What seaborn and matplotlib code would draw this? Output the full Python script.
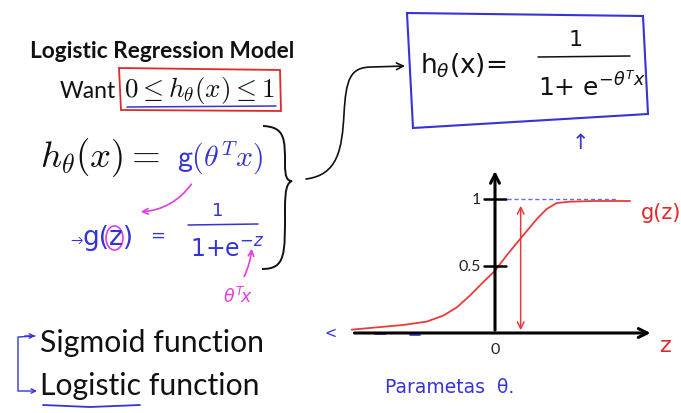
import matplotlib
matplotlib.use('Agg')
import matplotlib.pyplot as plt
import seaborn as sns
from matplotlib.patches import FancyArrowPatch, Ellipse, Polygon, PathPatch
from matplotlib.path import Path

# sigmoid g(z)
z_vals = [-5.97, -4.93, -3.82, -2.85, -2.15, -1.60, -1.04, -0.49, 0.0, 0.49,
          0.90, 1.32, 1.74, 2.15, 2.57, 3.13, 4.10, 5.63]
g_vals = [0.025, 0.042, 0.06, 0.085, 0.13, 0.19, 0.28, 0.38, 0.465, 0.58,
          0.67, 0.76, 0.85, 0.925, 0.97, 0.98, 0.985, 0.985]

y_ticks = [1, 0.5]
y_tick_labels = ['1', '0.5']
x_ticks = [0]
x_tick_labels = ['0']

sns.set_theme(style='white')
plt.rcParams['font.family'] = ['Lato', 'DejaVu Sans']

BLUE = '#3434d8'
RED = '#e02a2a'
MAG = '#e23de0'
CURVE = '#e63c3c'

fig = plt.figure(figsize=(6.81, 4.14), dpi=100)
fig.patch.set_facecolor('white')

# full page axes in pixel units for the slide text
ax = fig.add_axes([0, 0, 1, 1])
ax.set_xlim(0, 681)
ax.set_ylim(414, 0)
ax.axis('off')

# ---- slide text
ax.text(162, 52, 'Logistic Regression Model', ha='center', va='center',
        fontsize=16.3, fontweight='bold', color='#111111')
ax.text(60, 91, 'Want', ha='left', va='center', fontsize=16.5, color='#111111')
ax.text(124, 90, r'$0 \leq h_\theta(x) \leq 1$', ha='left', va='center',
        fontsize=19.5, color='#111111', math_fontfamily='cm')
# red box + blue underline
ax.add_patch(Polygon([(119, 69), (280, 71), (281, 112), (121, 111)], closed=True,
                     fill=False, ec=RED, lw=1.3))
ax.plot([127, 276], [108, 107], color=BLUE, lw=1.1)

ax.text(40, 158, r'$h_\theta(x) = $', ha='left', va='center', fontsize=26.5,
        color='#111111', math_fontfamily='cm')
ax.text(177, 158, r'$\mathsf{g}(\theta^T x)$', ha='left', va='center', fontsize=21.5,
        color=BLUE, math_fontfamily='cm')

# brace
brace = Path([(263, 127), (285, 128), (285, 140), (285, 165), (285, 178), (287, 182), (292, 182),
              (287, 184), (285, 190), (285, 210), (285, 255), (286, 270), (262, 270)],
             [Path.MOVETO, Path.CURVE4, Path.CURVE4, Path.CURVE4, Path.CURVE4, Path.CURVE4, Path.CURVE4,
              Path.CURVE4, Path.CURVE4, Path.CURVE4, Path.CURVE4, Path.CURVE4, Path.CURVE4])
ax.add_patch(PathPatch(brace, fill=False, ec='#111111', lw=1.4))

# g(z) definition
ax.text(70, 241, '→', ha='left', va='center', fontsize=9, color=BLUE)
ax.text(82, 238, 'g(z)', ha='left', va='center', fontsize=19, color=BLUE,
        family='DejaVu Sans')
ax.text(150, 236, '=', ha='left', va='center', fontsize=13, color=BLUE,
        family='DejaVu Sans')
ax.add_patch(Ellipse((114.5, 239), 17, 24, fill=False, ec=MAG, lw=1.2))
ax.text(218, 211, '1', ha='center', va='center', fontsize=13, color=BLUE, family='DejaVu Sans')
ax.plot([188, 258], [226, 225], color=BLUE, lw=1.1)
ax.text(190, 250, r'$1$+e$^{-z}$', ha='left', va='center', fontsize=17, color=BLUE,
        family='DejaVu Sans')

ax.add_patch(FancyArrowPatch((193, 183), (138, 213), connectionstyle='arc3,rad=-0.25',
                             arrowstyle='->', mutation_scale=10, color=MAG, lw=1.2))
ax.add_patch(FancyArrowPatch((243, 280), (252, 247), connectionstyle='arc3,rad=0.1',
                             arrowstyle='->', mutation_scale=10, color=MAG, lw=1.2))
ax.text(238, 296, r'$\theta^T\!x$', ha='center', va='center', fontsize=12.5, color=MAG)

# sigmoid / logistic
ax.text(40, 343, 'Sigmoid function', ha='left', va='center', fontsize=21.7, color='#111111')
ax.text(40, 386, 'Logistic function', ha='left', va='center', fontsize=21.7, color='#111111')
ax.add_patch(FancyArrowPatch(path=Path([(35, 337), (18, 338), (18, 392), (37, 392)],
                                       [Path.MOVETO, Path.LINETO, Path.LINETO, Path.LINETO]),
                             arrowstyle='->', mutation_scale=8, color=BLUE, lw=1.0))
ax.add_patch(FancyArrowPatch((22, 337), (38, 337), arrowstyle='->', mutation_scale=8,
                             color=BLUE, lw=1.0))
ax.plot([43, 90, 140], [406, 408, 406], color=BLUE, lw=1.3)

ax.text(385, 388, 'Parametas  θ.', ha='left', va='center', fontsize=13.5, color=BLUE,
        family='DejaVu Sans')

# arrow from brace to box
arr = Path([(306, 180), (338, 176), (342, 150), (344, 115), (346, 80), (350, 68), (372, 68), (405, 67)],
           [Path.MOVETO, Path.CURVE4, Path.CURVE4, Path.CURVE4, Path.CURVE4, Path.CURVE4, Path.CURVE4, Path.LINETO])
ax.add_patch(FancyArrowPatch(path=arr, arrowstyle='->', mutation_scale=12, color='#111111', lw=1.2))

# boxed formula
ax.add_patch(Polygon([(407, 14), (643, 17), (648, 115), (413, 129)], closed=True,
                     fill=False, ec=BLUE, lw=1.5))
ax.text(420, 66, r'h$_\theta$(x)=', ha='left', va='center', fontsize=19, color='#111111',
        family='DejaVu Sans')
ax.text(576, 40, '1', ha='center', va='center', fontsize=16, color='#111111', family='DejaVu Sans')
ax.plot([538, 630], [58, 57], color='#111111', lw=1.1)
ax.text(538, 86, r'1+ e$^{-\theta^T x}$', ha='left', va='center', fontsize=18, color='#111111',
        family='DejaVu Sans')
ax.text(580, 143, '↑', ha='center', va='center', fontsize=15, color=BLUE, family='DejaVu Sans')

# ---- sigmoid plot
pax = fig.add_axes([330 / 681, (414 - 355) / 414, 335 / 681, 190 / 414])
pax.set_xlim((330 - 495) / 24, (665 - 495) / 24)
pax.set_ylim((334 - 355) / 134, (334 - 165) / 134)
pax.axis('off')
pax.patch.set_alpha(0)

sns.lineplot(x=z_vals, y=g_vals, ax=pax, color=CURVE, lw=1.3)

pax.annotate('', xy=(6.6, 0), xytext=(-5.97, 0),
             arrowprops=dict(arrowstyle='->', lw=2.2, color='black', mutation_scale=16))
pax.annotate('', xy=(0, 1.23), xytext=(0, 0),
             arrowprops=dict(arrowstyle='->', lw=2.2, color='black', mutation_scale=16))
for t, lab in zip(y_ticks, y_tick_labels):
    pax.plot([-0.45, 0.45], [t, t], color='black', lw=1.8)
    pax.text(-0.6, t, lab, ha='right', va='center', fontsize=11.5, color='#222222')
for t, lab in zip(x_ticks, x_tick_labels):
    pax.text(t, -0.12, lab, ha='center', va='center', fontsize=11.5, color='#222222')

pax.plot([0.49, 5.1], [1, 1], color='#6b6be0', lw=1.0, ls=(0, (3, 2)))
pax.annotate('', xy=(1.07, 0.97), xytext=(1.07, 0.0),
             arrowprops=dict(arrowstyle='<->', color=CURVE, lw=1.1, mutation_scale=12))

ax.text(641, 213, 'g(z)', ha='left', va='center', fontsize=15, color=RED, family='DejaVu Sans',
        clip_on=False)
ax.text(660, 346, 'z', ha='left', va='center', fontsize=16, color=RED, family='DejaVu Sans')
ax.text(331, 333, '<', ha='center', va='center', fontsize=10.5, color=BLUE, family='DejaVu Sans')
ax.plot([375, 385], [335, 335], color=BLUE, lw=1.2)
ax.plot([410, 420], [336, 336], color=BLUE, lw=1.2)

fig.savefig('out.png', dpi=100)
